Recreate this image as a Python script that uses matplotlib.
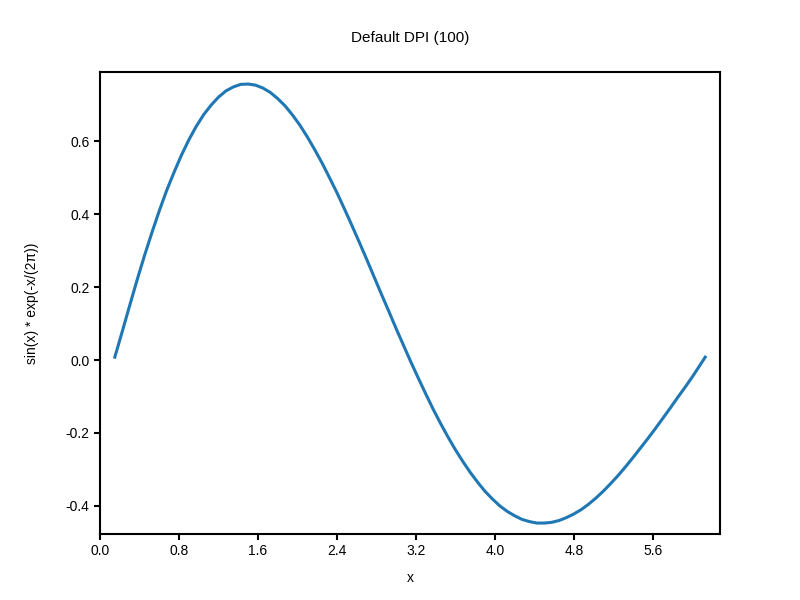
import matplotlib
matplotlib.use("Agg")
import matplotlib.pyplot as plt

plt.rcParams['font.family'] = ['Liberation Sans', 'DejaVu Sans']
plt.rcParams['axes.unicode_minus'] = False

# values
x_vals = [0.150, 0.225, 0.300, 0.375, 0.450, 0.525, 0.600, 0.675, 0.750, 0.825,
          0.900, 0.975, 1.050, 1.125, 1.200, 1.275, 1.350, 1.425, 1.500, 1.575,
          1.650, 1.725, 1.800, 1.875, 1.950, 2.025, 2.100, 2.175, 2.250, 2.325,
          2.400, 2.475, 2.550, 2.625, 2.700, 2.775, 2.850, 2.925, 3.000, 3.075,
          3.150, 3.225, 3.300, 3.375, 3.450, 3.525, 3.600, 3.675, 3.750, 3.825,
          3.900, 3.975, 4.050, 4.125, 4.200, 4.275, 4.350, 4.425, 4.500, 4.575,
          4.650, 4.725, 4.800, 4.875, 4.950, 5.025, 5.100, 5.175, 5.250, 5.325,
          5.400, 5.475, 5.550, 5.625, 5.700, 5.775, 5.850, 5.925, 6.000, 6.075,
          6.130]
y_vals = [0.008, 0.078, 0.149, 0.219, 0.286, 0.349, 0.409, 0.465, 0.515, 0.562,
          0.604, 0.641, 0.673, 0.699, 0.721, 0.738, 0.749, 0.756, 0.757, 0.754,
          0.746, 0.734, 0.717, 0.697, 0.672, 0.644, 0.612, 0.577, 0.540, 0.500,
          0.459, 0.415, 0.370, 0.324, 0.277, 0.229, 0.181, 0.134, 0.086, 0.040,
          -0.006, -0.050, -0.093, -0.135, -0.174, -0.211, -0.246, -0.278, -0.308, -0.335,
          -0.360, -0.381, -0.400, -0.415, -0.427, -0.437, -0.443, -0.447, -0.447, -0.445,
          -0.440, -0.432, -0.422, -0.410, -0.395, -0.378, -0.359, -0.338, -0.316, -0.292,
          -0.267, -0.241, -0.215, -0.188, -0.160, -0.132, -0.103, -0.075, -0.046, -0.015,
          0.008]

x_ticks = [0.0, 0.8, 1.6, 2.4, 3.2, 4.0, 4.8, 5.6]
y_ticks = [-0.4, -0.2, 0.0, 0.2, 0.4, 0.6]

fig, ax = plt.subplots(figsize=(8, 6), dpi=100)
ax.plot(x_vals, y_vals, color='#1f77b4', linewidth=2.2)

ax.set_xlim(0, 6.28)
ax.set_ylim(-0.477, 0.79)
ax.set_xticks(x_ticks)
ax.set_xticklabels([f"{t:.1f}" for t in x_ticks])
ax.set_yticks(y_ticks)
ax.set_yticklabels([f"{t:.1f}" for t in y_ticks])

for side in ax.spines.values():
    side.set_linewidth(1.5)
ax.tick_params(width=1.5, length=4)

ax.set_title("Default DPI (100)", fontsize=11, pad=21.5)
ax.set_xlabel("x", labelpad=9)
ax.set_ylabel("sin(x) * exp(-x/(2π))", labelpad=19)

fig.savefig("out.png", dpi=100)
